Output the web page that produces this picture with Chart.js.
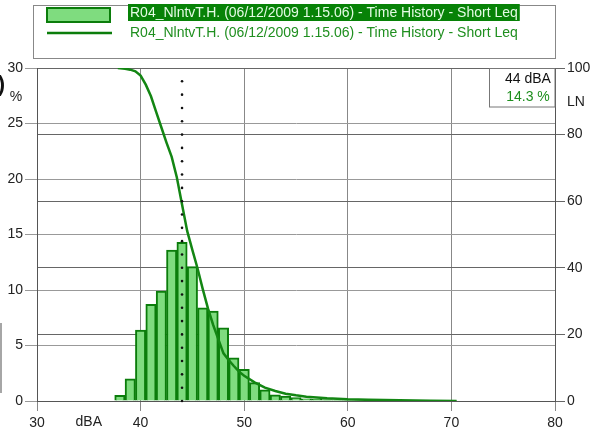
<!DOCTYPE html>
<html>
<head>
<meta charset="utf-8">
<script src="https://cdn.jsdelivr.net/npm/chart.js@4.4.1/dist/chart.umd.min.js"></script>
<style>
  body { margin: 0; background: #fff; }
  canvas { display: block; }
</style>
</head>
<body>
<canvas id="histChart" width="595" height="439"></canvas>
<script>
// histogram classes (dBA) and % of time in each class
const levels = [38, 39, 40, 41, 42, 43, 44, 45, 46, 47, 48, 49, 50, 51, 52, 53, 54,
                55, 56, 57, 58, 59, 60, 61, 62, 63, 64, 65, 66, 67, 68, 69, 70];
const percentTime = [0.5, 2.0, 6.4, 8.7, 9.9, 13.6, 14.3, 12.1, 8.4, 8.1, 6.6, 3.9, 2.85, 1.65, 1.0, 0.55, 0.45,
                     0.3, 0.2, 0.15, 0.12, 0.1, 0.1, 0.1, 0.08, 0.06, 0.05, 0.05, 0.05, 0.05, 0.05, 0.05, 0.05];

// LN curve: % of time the level is exceeded
const lnLevels = [37.8, 38.5, 39, 39.5, 40, 40.5, 41, 41.5, 42, 42.5, 43, 43.5, 44, 44.5, 45, 45.5, 46, 46.5,
                  47, 47.5, 48, 48.5, 49, 49.5, 50, 51, 52, 53, 54, 55, 56, 58, 60, 62, 65, 68, 70.5];
const lnValues = [100, 99.8, 99.5, 99.0, 97.7, 95.0, 91.5, 86.8, 82.2, 77.6, 73.3, 67.1, 59.0, 51.0, 45.3, 39.8, 33.6, 27.8,
                  22.9, 18.6, 14.3, 12.3, 10.5, 8.8, 7.6, 5.6, 4.0, 3.0, 2.2, 1.7, 1.3, 0.8, 0.5, 0.35, 0.2, 0.1, 0];

const seriesName = 'R04_NlntvT.H. (06/12/2009 1.15.06) - Time History - Short Leq';
const cursorLevel = 44;
const cursorPercent = 14.3;

const FONT = '"Liberation Sans", Arial, sans-serif';
const darkGreen = '#0b7d0b';
const barFill = '#7fdc7f';

Chart.defaults.font.family = FONT;
Chart.defaults.font.size = 14;
Chart.defaults.color = '#222';

// legend, cursor box and the loose labels
const extras = {
    id: 'extras',
    afterDatasetsDraw(chart) {
        const ctx = chart.ctx;
        const cx = chart.scales.x.getPixelForValue(cursorLevel);
        ctx.save();
        ctx.fillStyle = '#111';
        for (let v = 0; v <= 96; v += 4) {
            ctx.beginPath();
            ctx.arc(cx, chart.scales.y2.getPixelForValue(v), 1.3, 0, Math.PI * 2);
            ctx.fill();
        }
        ctx.restore();
    },
    afterDraw(chart) {
        const ctx = chart.ctx;
        const area = chart.chartArea;
        ctx.save();
        ctx.font = '14px ' + FONT;
        ctx.textBaseline = 'middle';

        // legend box
        ctx.fillStyle = '#fff';
        ctx.fillRect(33, 5, 523, 54);
        ctx.strokeStyle = '#888';
        ctx.lineWidth = 1;
        ctx.strokeRect(33.5, 5.5, 522, 53);

        ctx.fillStyle = barFill;
        ctx.fillRect(47, 8, 63, 14);
        ctx.strokeStyle = darkGreen;
        ctx.lineWidth = 2;
        ctx.strokeRect(47, 8, 63, 14);

        const w = ctx.measureText(seriesName).width;
        ctx.fillStyle = '#078207';
        ctx.fillRect(128, 4, w + 4, 17);
        ctx.fillStyle = '#e4fbe4';
        ctx.textAlign = 'left';
        ctx.fillText(seriesName, 130, 13);

        ctx.strokeStyle = darkGreen;
        ctx.lineWidth = 2.5;
        ctx.beginPath();
        ctx.moveTo(47, 33);
        ctx.lineTo(112, 33);
        ctx.stroke();
        ctx.fillStyle = '#1f8f1f';
        ctx.fillText(seriesName, 130, 33);

        // cursor readout
        ctx.fillStyle = '#fff';
        ctx.fillRect(489, area.top, area.right - 489, 39);
        ctx.strokeStyle = '#777';
        ctx.lineWidth = 1;
        ctx.strokeRect(489.5, area.top + 0.5, area.right - 489.5, 38.5);
        ctx.textAlign = 'center';
        ctx.fillStyle = '#111';
        ctx.fillText(cursorLevel + ' dBA', 528, 79);
        ctx.fillStyle = '#1f8f1f';
        ctx.fillText(cursorPercent.toFixed(1) + ' %', 528, 97);

        // axis units
        ctx.fillStyle = '#222';
        ctx.fillText('%', 16, 97);
        ctx.fillText('LN', 576, 102);
        ctx.fillText('dBA', chart.scales.x.getPixelForValue(35), 422);

        // cut-off bits on the left edge
        ctx.font = 'bold 22px ' + FONT;
        ctx.textAlign = 'right';
        ctx.fillStyle = '#111';
        ctx.fillText(')', 5, 85);
        ctx.strokeStyle = '#888';
        ctx.lineWidth = 1.5;
        ctx.beginPath();
        ctx.moveTo(1, 323);
        ctx.lineTo(1, 393);
        ctx.stroke();
        ctx.restore();
    }
};

const ctx = document.getElementById('histChart').getContext('2d');
const histChart = new Chart(ctx, {
    type: 'bar',
    data: {
        datasets: [
            {
                type: 'line',
                label: seriesName,
                data: lnLevels.map((l, i) => ({ x: l, y: lnValues[i] })),
                yAxisID: 'y2',
                borderColor: '#138613',
                borderWidth: 2.5,
                pointRadius: 0,
                tension: 0,
                fill: false,
                order: 0
            },
            {
                type: 'bar',
                label: seriesName,
                data: levels.map((l, i) => ({ x: l, y: percentTime[i] })),
                yAxisID: 'y',
                backgroundColor: barFill,
                borderColor: darkGreen,
                borderWidth: 2,
                barPercentage: 1,
                categoryPercentage: 1,
                order: 1
            }
        ]
    },
    options: {
        responsive: false,
        animation: false,
        layout: { padding: { top: 68, left: 0, right: 0, bottom: 0 } },
        plugins: {
            legend: { display: false },
            tooltip: { enabled: false }
        },
        scales: {
            x: {
                type: 'linear',
                min: 30,
                max: 80,
                offset: false,
                grid: { offset: false, color: '#888', tickLength: 10 },
                border: { color: '#555' },
                ticks: { stepSize: 10, padding: 4, color: '#222', maxRotation: 0 },
                afterFit: s => { s.height = 38; }
            },
            y: {
                position: 'left',
                min: 0,
                max: 30,
                grid: { color: '#999', tickLength: 12 },
                border: { color: '#555' },
                ticks: { stepSize: 5, padding: 2, color: '#222' },
                afterFit: s => { s.width = 37; }
            },
            y2: {
                position: 'right',
                min: 0,
                max: 100,
                grid: { color: '#666', tickLength: 10 },
                border: { color: '#555' },
                ticks: { stepSize: 20, padding: 2, color: '#222' },
                afterFit: s => { s.width = 40; }
            }
        }
    },
    plugins: [extras]
});
</script>
</body>
</html>
